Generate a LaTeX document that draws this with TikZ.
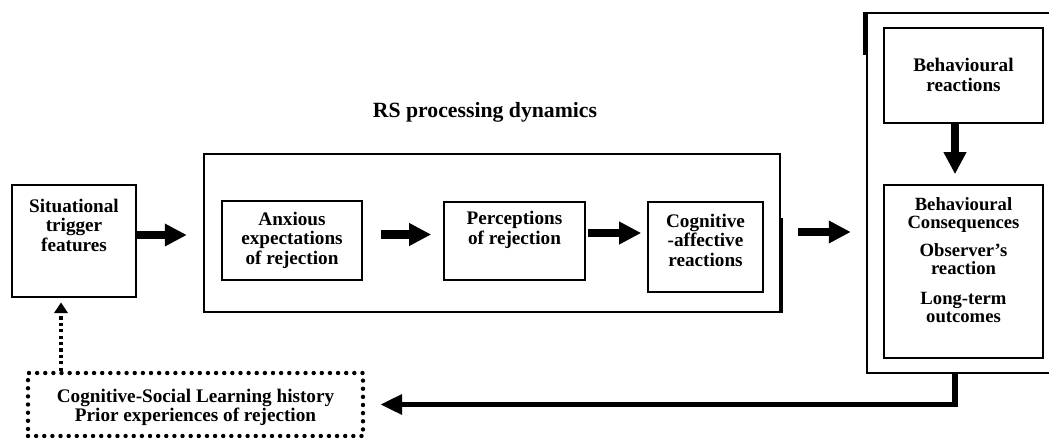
\documentclass[tikz,border=0pt]{standalone}
\usepackage{fontspec}
\setmainfont{Liberation Serif}
\usetikzlibrary{arrows.meta,calc}
\begin{document}
\begin{tikzpicture}[x=0.75pt,y=-0.75pt,
  box/.style={draw, line width=1.2pt, inner sep=0pt},
  bigbox/.style={draw, line width=1.8pt, inner sep=0pt},
  txt/.style={font=\fontsize{14.4}{14.6}\selectfont\bfseries, align=center, inner sep=0pt},
  bigarrow/.style={line width=6.6pt, -{Triangle[length=16.5pt,width=16pt]}},
  backarrow/.style={line width=4.2pt, -{Triangle[length=16.5pt,width=14.5pt]}},
  dotarrow/.style={line width=3pt, dash pattern=on 2.4pt off 2.4pt, -{Triangle[length=8pt,width=10pt]}},
  dotbox/.style={draw, line width=3.3pt, line cap=round, dash pattern=on 0pt off 6.1pt, inner sep=0pt}
  ]
\useasboundingbox (0,0) rectangle (1049,438);

% boxes
\node[box, minimum width=93pt, minimum height=84pt] (sit) at (74,241) {};
\node[bigbox, minimum width=432pt, minimum height=118.5pt] (rs) at (492,233) {};
\node[box, minimum width=105pt, minimum height=59.25pt] (anx) at (292,240.5) {};
\node[box, minimum width=105.75pt, minimum height=58.5pt] (per) at (514.5,241) {};
\node[box, minimum width=86.25pt, minimum height=67.5pt] (cog) at (705.5,247) {};
\node[bigbox, minimum width=144.75pt, minimum height=270pt] (right) at (963.5,193) {};
\node[box, minimum width=119.25pt, minimum height=71.25pt] (br) at (963.5,75.5) {};
\node[box, minimum width=119.25pt, minimum height=129.75pt] (bc) at (963.5,271.5) {};
\node[dotbox, minimum width=251.25pt, minimum height=47.25pt] (hist) at (195.5,404.5) {};

% heavier edge segments of the outer frames
\draw[line width=2.6pt] ($(right.north west)+(-1,0)$) -- ++(0,43);
\draw[line width=2.6pt] (rs.south east) -- ++(0,-95);

% texts
\node[txt, font=\fontsize{16.3}{18}\selectfont\bfseries] (title) at (485,112) {RS processing dynamics};
\node[txt] (sitT) at (74,225) {Situational\\trigger\\features};
\node[txt] (anxT) at (292,240) {Anxious\\expectations\\of rejection};
\node[txt] (perT) at (514.5,230) {Perceptions\\of rejection};
\node[txt] (cogT) at (705.5,240) {Cognitive\\-affective\\reactions};
\node[txt] (brT) at (963.5,75) {Behavioural\\reactions};
\node[txt, font=\fontsize{14}{13.4}\selectfont\bfseries] (bcT) at (963.5,260) {Behavioural\\Consequences\\[8pt]Observer's\\reaction\\[9pt]Long-term\\outcomes};
\node[txt] (histT) at (195.5,407.5) {Cognitive-Social Learning history\\Prior experiences of rejection};

% connectors
\draw[bigarrow, shorten >=12pt] ($(sit.east)+(0,-6)$) coordinate (s1) -- (s1 -| rs.west);
\draw[bigarrow, shorten <=13.5pt, shorten >=9pt] ($(anx.east)+(0,-6)$) coordinate (s2) -- (s2 -| per.west);
\draw[bigarrow, shorten <=2pt, shorten >=4.5pt] ($(per.east)+(0,-8)$) coordinate (s3) -- (s3 -| cog.west);
\draw[bigarrow, shorten <=12.75pt, shorten >=11.25pt] ($(rs.east)+(0,-1)$) coordinate (s4) -- (s4 -| right.west);
\draw[bigarrow, shorten >=7.5pt] ($(br.south)+(-8.5,0)$) coordinate (s5) -- (s5 |- bc.north);
\draw[backarrow, shorten >=11.25pt] ($(right.south)+(-8.5,0)$) |- (hist.east);
\path ($(sit.south)+(-13,0)$) coordinate (s7);
\draw[dotarrow, shorten >=3.5pt] (s7 |- hist.north) -- (s7);
\end{tikzpicture}
\end{document}
